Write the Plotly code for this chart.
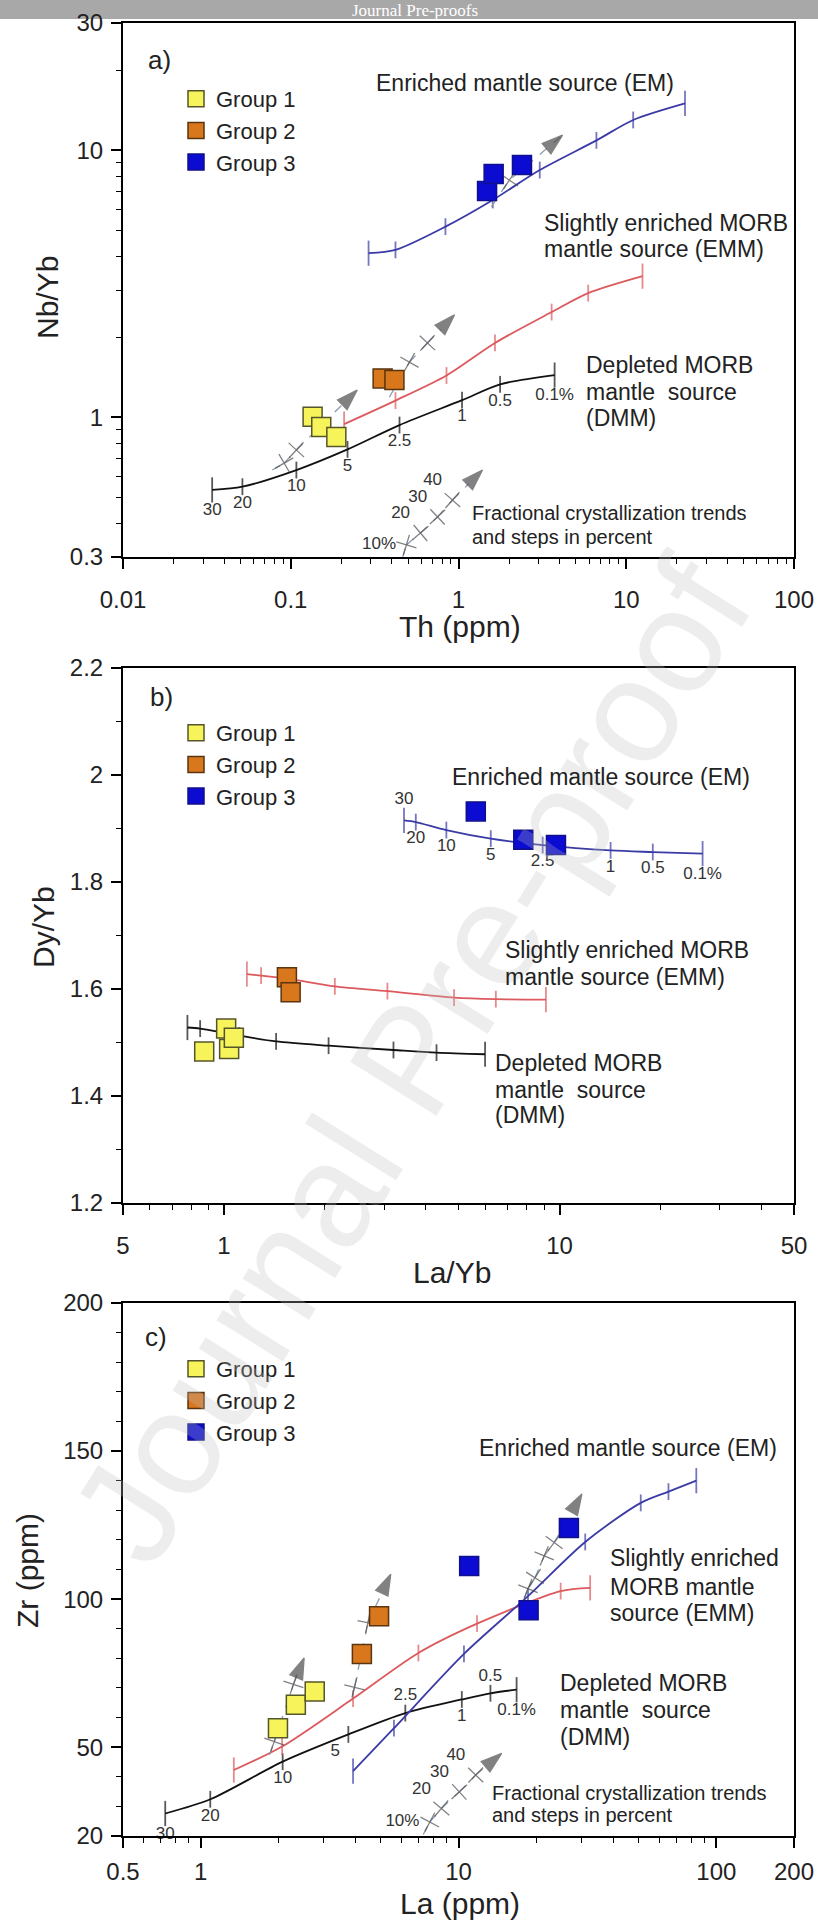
import numpy as np
import plotly.graph_objects as go

W, H = 818, 1929
FONT = "Liberation Sans, Arial, Helvetica, sans-serif"

# ---------------- Panel a : Nb/Yb vs Th (ppm) ----------------
PCT_LBL = ["30", "20", "10", "5", "2.5", "1", "0.5", "0.1%"]

A_DMM_TH = [0.034, 0.0515, 0.108, 0.218, 0.445, 1.05, 1.77, 3.74]
A_DMM_NBYB = [0.535, 0.550, 0.635, 0.759, 0.936, 1.16, 1.33, 1.44]
A_EMM_TH = [0.208, 0.421, 0.848, 1.65, 3.59, 5.93, 12.5]
A_EMM_NBYB = [0.944, 1.156, 1.435, 1.90, 2.48, 2.92, 3.38]
A_EM_TH = [0.291, 0.421, 0.836, 1.60, 3.05, 6.64, 11.0, 22.4]
A_EM_NBYB = [4.12, 4.24, 5.18, 6.52, 8.44, 10.9, 13.0, 15.0]

A_G1_TH = [0.135, 0.152, 0.187]
A_G1_NBYB = [1.006, 0.92, 0.844]
A_G2_TH = [0.353, 0.415]
A_G2_NBYB = [1.40, 1.38]
A_G3_TH = [1.48, 1.62, 2.39]
A_G3_NBYB = [7.04, 8.15, 8.82]

# fractional crystallisation trends (start, steps..., arrow tip)
A_FC1_TH = [0.0776, 0.0914, 0.108, 0.249]
A_FC1_NBYB = [0.635, 0.674, 0.755, 1.266]
A_FC2_TH = [0.387, 0.51, 0.653, 0.946]
A_FC2_NBYB = [1.19, 1.61, 1.90, 2.42]
A_FC3_TH = [1.57, 2.01, 4.17]
A_FC3_NBYB = [6.15, 7.74, 11.4]
A_FCKEY_TH = [0.465, 0.489, 0.593, 0.75, 0.92, 1.39]
A_FCKEY_NBYB = [0.30, 0.333, 0.369, 0.424, 0.490, 0.635]
FC_KEY_LBL = ["", "10%", "20", "30", "40", ""]

# ---------------- Panel b : Dy/Yb vs La/Yb ----------------
B_DMM_LAYB = [0.778, 0.849, 1.11, 1.43, 2.05, 3.20, 4.30, 6.0]
B_DMM_DYYB = [1.528, 1.526, 1.513, 1.502, 1.494, 1.486, 1.481, 1.478]
B_EMM_LAYB = [1.17, 1.29, 1.56, 2.14, 3.07, 4.85, 6.46, 9.11]
B_EMM_DYYB = [1.628, 1.625, 1.619, 1.605, 1.596, 1.584, 1.581, 1.580]
B_EM_LAYB = [3.44, 3.73, 4.60, 6.24, 8.91, 14.2, 18.97, 26.7]
B_EM_DYYB = [1.915, 1.912, 1.897, 1.881, 1.869, 1.859, 1.856, 1.853]

B_G1_LAYB = [0.873, 1.015, 1.036, 1.07]
B_G1_DYYB = [1.483, 1.526, 1.488, 1.509]
B_G2_LAYB = [1.54, 1.58]
B_G2_DYYB = [1.622, 1.594]
B_G3_LAYB = [5.63, 7.80, 9.76]
B_G3_DYYB = [1.932, 1.879, 1.869]

# ---------------- Panel c : Zr vs La (ppm) ----------------
C_DMM_LA = [0.729, 1.09, 2.08, 3.74, 6.22, 10.3, 13.3, 16.8]
C_DMM_ZR = [27.6, 32.4, 45.1, 54.3, 61.5, 66.1, 68.2, 69.4]
C_EMM_LA = [1.345, 2.07, 3.90, 6.99, 11.8, 24.9, 32.4]
C_EMM_ZR = [42.3, 50.2, 66.4, 81.8, 91.7, 102.7, 103.8]
C_EM_LA = [3.90, 5.62, 10.5, 18.6, 31.0, 50.9, 65.2, 83.6]
C_EM_ZR = [41.9, 56.4, 81.5, 101.0, 119.3, 132.5, 136.3, 140.0]

C_G1_LA = [1.995, 2.34, 2.77]
C_G1_ZR = [56.4, 64.3, 68.8]
C_G2_LA = [4.22, 4.92]
C_G2_ZR = [81.5, 94.2]
C_G3_LA = [11.0, 18.7, 26.8]
C_G3_ZR = [111.2, 96.2, 124.0]

C_FC1_LA = [1.85, 1.93, 2.29, 2.52]
C_FC1_ZR = [47.4, 51.9, 71.2, 80.1]
C_FC2_LA = [3.88, 3.95, 4.45, 5.46]
C_FC2_ZR = [67.5, 70.2, 92.0, 108.4]
C_FC3_LA = [18.0, 18.6, 19.8, 21.5, 23.5, 30.1]
C_FC3_ZR = [100.4, 103.5, 107.2, 114.6, 119.1, 135.5]
C_FCKEY_LA = [7.3, 7.74, 8.58, 10.07, 11.66, 14.7]
C_FCKEY_ZR = [20.5, 24.7, 29.3, 34.9, 40.6, 47.9]

GROUP_NAMES = ["Group 1", "Group 2", "Group 3"]
GROUP_FILL = ["#f6f45a", "#d9771c", "#0b0bd2"]
GROUP_EDGE = ["#55552a", "#5a3510", "#10108a"]

C_EM_COL = "#3b3ba6"
C_EMM_COL = "#dc5a5e"
C_DMM_COL = "#111111"

fig = go.Figure()


def px(x):
    return x / W


def py(y):
    return 1 - y / H


def add_curve(xs, ys, color, xa, ya, labels=None, pos="bottom center"):
    n = len(xs)
    sizes = [18] + [12] * (n - 2) + [18]
    fig.add_trace(go.Scatter(
        x=xs, y=ys, xaxis=xa, yaxis=ya,
        mode="lines+markers" + ("+text" if labels else ""),
        line=dict(color=color, width=1.8, shape="spline", smoothing=0.8),
        marker=dict(symbol="line-ns", size=sizes, color=color,
                    line=dict(color=color, width=1.8)),
        text=labels, textposition=pos,
        textfont=dict(size=17, color="#333333", family=FONT),
        cliponaxis=False, showlegend=False, hoverinfo="skip"))


def add_trend(xs, ys, xa, ya, labels=None, pos=None):
    n = len(xs)
    symbols = ["line-ns"] + ["cross-thin-open"] * (n - 2) + ["arrow"]
    sizes = [0] + [15] * (n - 2) + [22]
    fig.add_trace(go.Scatter(
        x=xs, y=ys, xaxis=xa, yaxis=ya,
        mode="lines+markers" + ("+text" if labels else ""),
        line=dict(color="#8b9cb3", width=1.3, dash="dash"),
        marker=dict(symbol=symbols, size=sizes, angleref="previous",
                    color="#4d4d4d", line=dict(color="#4d4d4d", width=1.3)),
        text=labels, textposition=pos,
        textfont=dict(size=17, color="#333333", family=FONT),
        cliponaxis=False, showlegend=False, hoverinfo="skip"))


def add_groups(xa, ya, leg, data):
    for i, (gx, gy) in enumerate(data):
        fig.add_trace(go.Scatter(
            x=gx, y=gy, xaxis=xa, yaxis=ya, mode="markers",
            name=GROUP_NAMES[i], legend=leg,
            marker=dict(symbol="square", size=19, color=GROUP_FILL[i],
                        line=dict(color=GROUP_EDGE[i], width=1.5)),
            cliponaxis=False, hoverinfo="skip"))


# panel a
add_curve(A_DMM_TH, A_DMM_NBYB, C_DMM_COL, "x", "y", PCT_LBL)
add_curve(A_EMM_TH, A_EMM_NBYB, C_EMM_COL, "x", "y")
add_curve(A_EM_TH, A_EM_NBYB, C_EM_COL, "x", "y")
add_trend(A_FC1_TH, A_FC1_NBYB, "x", "y")
add_trend(A_FC2_TH, A_FC2_NBYB, "x", "y")
add_trend(A_FC3_TH, A_FC3_NBYB, "x", "y")
add_trend(A_FCKEY_TH, A_FCKEY_NBYB, "x", "y", FC_KEY_LBL,
          ["top left", "middle left", "top left", "top left", "top left", "top left"])
add_groups("x", "y", "legend", [(A_G1_TH, A_G1_NBYB), (A_G2_TH, A_G2_NBYB), (A_G3_TH, A_G3_NBYB)])

# panel b
add_curve(B_DMM_LAYB, B_DMM_DYYB, C_DMM_COL, "x2", "y2")
add_curve(B_EMM_LAYB, B_EMM_DYYB, C_EMM_COL, "x2", "y2")
add_curve(B_EM_LAYB, B_EM_DYYB, C_EM_COL, "x2", "y2", PCT_LBL,
          ["top center"] + ["bottom center"] * 7)
add_groups("x2", "y2", "legend2", [(B_G1_LAYB, B_G1_DYYB), (B_G2_LAYB, B_G2_DYYB), (B_G3_LAYB, B_G3_DYYB)])

# panel c
add_curve(C_DMM_LA, C_DMM_ZR, C_DMM_COL, "x3", "y3", PCT_LBL,
          ["bottom center", "bottom center", "bottom center", "bottom left",
           "top center", "bottom center", "top center", "bottom center"])
add_curve(C_EMM_LA, C_EMM_ZR, C_EMM_COL, "x3", "y3")
add_curve(C_EM_LA, C_EM_ZR, C_EM_COL, "x3", "y3")
add_trend(C_FC1_LA, C_FC1_ZR, "x3", "y3")
add_trend(C_FC2_LA, C_FC2_ZR, "x3", "y3")
add_trend(C_FC3_LA, C_FC3_ZR, "x3", "y3")
add_trend(C_FCKEY_LA, C_FCKEY_ZR, "x3", "y3", FC_KEY_LBL,
          ["top left", "middle left", "top left", "top left", "top left", "top left"])
add_groups("x3", "y3", "legend3", [(C_G1_LA, C_G1_ZR), (C_G2_LA, C_G2_ZR), (C_G3_LA, C_G3_ZR)])


def log_minor(lo, hi, majors):
    vals = [k * 10.0 ** e for e in range(-3, 4) for k in range(2, 10)]
    return [v for v in vals if lo < v < hi and not any(abs(v - m) < 1e-9 for m in majors)]


XDOM = [px(123), px(794)]
TICKFONT = dict(size=24, family=FONT, color="#222222")


def axis_common():
    return dict(showline=True, linecolor="black", linewidth=2, mirror=True,
                showgrid=False, zeroline=False, ticks="outside", ticklen=10,
                tickwidth=1.6, tickcolor="black", tickfont=TICKFONT, automargin=False)


def minor(vals):
    return dict(tickvals=vals, ticks="outside", ticklen=5, tickwidth=1.3, tickcolor="black")


xa_t = [0.01, 0.1, 1, 10, 100]
ya_t = [0.3, 1, 10, 30]
xb_t = [0.5, 1, 10, 50]
yb_t = [1.2, 1.4, 1.6, 1.8, 2.0, 2.2]
xc_t = [0.5, 1, 10, 100, 200]
yc_t = [20, 50, 100, 150, 200]

fig.update_layout(
    xaxis=dict(**axis_common(), type="log", range=[-2, 2], domain=XDOM, anchor="y",
               tickvals=xa_t, ticktext=["0.01", "0.1", "1", "10", "100"], ticklabelstandoff=10,
               minor=minor(log_minor(0.01, 100, xa_t))),
    yaxis=dict(**axis_common(), type="log", range=[np.log10(0.3), np.log10(30)],
               domain=[py(557), py(23)], anchor="x",
               tickvals=ya_t, ticktext=["0.3", "1", "10", "30"], ticklabelstandoff=3,
               minor=minor(log_minor(0.3, 30, ya_t))),
    xaxis2=dict(**axis_common(), type="log", range=[np.log10(0.5), np.log10(50)], domain=XDOM,
                anchor="y2", tickvals=xb_t, ticktext=["5", "1", "10", "50"], ticklabelstandoff=10,
                minor=minor(log_minor(0.5, 50, xb_t))),
    yaxis2=dict(**axis_common(), range=[1.2, 2.2], domain=[py(1203), py(668)], anchor="x2",
                tickvals=yb_t, ticktext=["1.2", "1.4", "1.6", "1.8", "2", "2.2"], ticklabelstandoff=3,
                minor=minor([1.3, 1.5, 1.7, 1.9, 2.1])),
    xaxis3=dict(**axis_common(), type="log", range=[np.log10(0.5), np.log10(200)], domain=XDOM,
                anchor="y3", tickvals=xc_t, ticktext=["0.5", "1", "10", "100", "200"],
                ticklabelstandoff=3, minor=minor(log_minor(0.5, 200, xc_t))),
    yaxis3=dict(**axis_common(), range=[20, 200], domain=[py(1836), py(1303)], anchor="x3",
                tickvals=yc_t, ticklabelstandoff=3,
                minor=minor([v for v in range(30, 200, 10) if v not in yc_t])),
)

LEG = dict(xanchor="left", yanchor="top", bgcolor="rgba(0,0,0,0)",
           font=dict(size=22, family=FONT, color="#222222"), itemsizing="trace",
           tracegroupgap=0, borderwidth=0)
fig.update_layout(
    legend=dict(**LEG, x=px(176), y=py(78)),
    legend2=dict(**LEG, x=px(176), y=py(712)),
    legend3=dict(**LEG, x=px(176), y=py(1348)),
)

ann = []


def text(t, x, y, size=22, xanchor="left", angle=0, color="#222222", family=FONT):
    ann.append(dict(text=t, x=px(x), y=py(y), xref="paper", yref="paper",
                    xanchor=xanchor, yanchor="middle", showarrow=False, textangle=angle,
                    font=dict(size=size, family=family, color=color)))


# watermark (faint)
text("Journal Pre-proof", 410, 1060, size=148, xanchor="center", angle=-58,
     color="rgba(190,190,190,0.28)")

# panel labels
text("a)", 146, 60, 26)
text("b)", 148, 697, 26)
text("c)", 143, 1337, 26)

# axis titles
text("Th (ppm)", 460, 627, 30, "center")
text("La/Yb", 452, 1272, 30, "center")
text("La (ppm)", 460, 1903, 30, "center")
text("Nb/Yb", 48, 298, 30, "center", -90)
text("Dy/Yb", 44, 927, 30, "center", -90)
text("Zr (ppm)", 27, 1571, 30, "center", -90)

# panel a texts
text("Enriched mantle source (EM)", 374, 83, 23)
text("Slightly enriched MORB", 542, 223, 23)
text("mantle source (EMM)", 542, 249, 23)
text("Depleted MORB", 584, 365, 23)
text("mantle  source", 584, 392, 23)
text("(DMM)", 584, 418, 23)
text("Fractional crystallization trends", 470, 513, 20)
text("and steps in percent", 470, 537, 20)

# panel b texts
text("Enriched mantle source (EM)", 450, 777, 23)
text("Slightly enriched MORB", 503, 950, 23)
text("mantle source (EMM)", 503, 977, 23)
text("Depleted MORB", 493, 1063, 23)
text("mantle  source", 493, 1090, 23)
text("(DMM)", 493, 1115, 23)

# panel c texts
text("Enriched mantle source (EM)", 477, 1448, 23)
text("Slightly enriched", 608, 1558, 23)
text("MORB mantle", 608, 1587, 23)
text("source (EMM)", 608, 1613, 23)
text("Depleted MORB", 558, 1683, 23)
text("mantle  source", 558, 1710, 23)
text("(DMM)", 558, 1737, 23)
text("Fractional crystallization trends", 490, 1793, 20)
text("and steps in percent", 490, 1815, 20)

# header bar
text("Journal Pre-proofs", 415, 11, 17, "center", color="white",
     family="Liberation Serif, Times New Roman, serif")

fig.update_layout(
    annotations=ann,
    shapes=[dict(type="rect", xref="paper", yref="paper", x0=0, x1=1, y0=py(19), y1=1,
                 fillcolor="#a8a8a8", line=dict(width=0), layer="below")],
    width=W, height=H, margin=dict(l=0, r=0, t=0, b=0, autoexpand=False),
    paper_bgcolor="white", plot_bgcolor="white", hovermode=False,
    font=dict(family=FONT, color="#222222"),
)

fig.write_html("out.html",
               post_script="document.body.style.margin='0px';document.body.style.overflow='hidden';")
